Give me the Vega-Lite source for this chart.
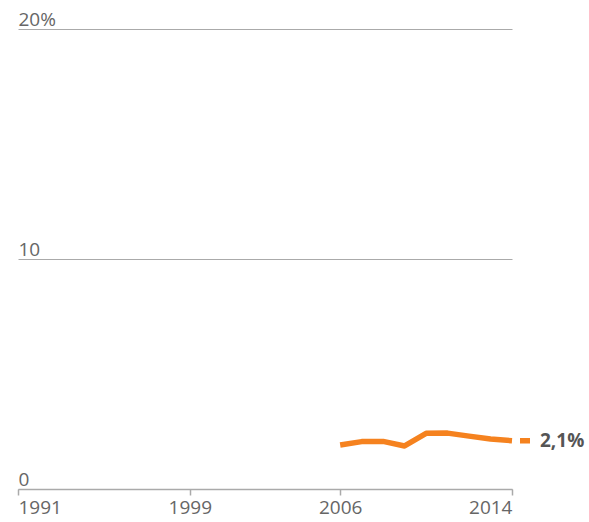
{
  "$schema": "https://vega.github.io/schema/vega-lite/v6.json",
  "width": 494,
  "height": 460,
  "autosize": "none",
  "padding": {"left": 18, "top": 29, "right": 77, "bottom": 33},
  "background": "white",
  "config": {
    "view": {"stroke": null},
    "font": "Open Sans"
  },
  "datasets": {
    "series": [
      {"year": 2006, "value": 1.91},
      {"year": 2007, "value": 2.06},
      {"year": 2008, "value": 2.07},
      {"year": 2009, "value": 1.87},
      {"year": 2010, "value": 2.42},
      {"year": 2011, "value": 2.43},
      {"year": 2012, "value": 2.3},
      {"year": 2013, "value": 2.17},
      {"year": 2014, "value": 2.1}
    ],
    "stub": [
      {"year": 2014, "value": 2.1},
      {"year": 2015, "value": 2.1}
    ],
    "label": [
      {"year": 2014, "value": 2.1, "text": "2,1%"}
    ]
  },
  "layer": [
    {
      "data": {"name": "series"},
      "mark": {"type": "line", "color": "#f5821f", "strokeWidth": 5.5, "strokeJoin": "round"},
      "encoding": {
        "x": {
          "field": "year", "type": "quantitative",
          "scale": {"domain": [1991, 2014], "nice": false, "zero": false},
          "axis": {
            "title": null,
            "values": [1991, 1999, 2006, 2014],
            "format": "d",
            "grid": false,
            "domainColor": "#aaaaaa",
            "domainWidth": 1.5,
            "tickColor": "#aaaaaa",
            "tickWidth": 1.5,
            "tickSize": 6,
            "labelFlush": true,
            "labelPadding": 3,
            "labelFontSize": 19,
            "labelColor": "#666666",
            "labelFont": "Open Sans"
          }
        },
        "y": {
          "field": "value", "type": "quantitative",
          "scale": {"domain": [0, 20], "nice": false},
          "axis": {
            "title": null,
            "values": [0, 10, 20],
            "labelExpr": "datum.value == 20 ? '20%' : datum.label",
            "domain": false,
            "ticks": false,
            "tickSize": 0,
            "grid": true,
            "gridColor": "#aaaaaa",
            "gridWidth": 1,
            "labelAlign": "left",
            "labelBaseline": "bottom",
            "labelPadding": 0,
            "labelDy": -4,
            "labelFlush": false,
            "labelFontSize": 19,
            "labelColor": "#666666",
            "labelFont": "Open Sans"
          }
        }
      }
    },
    {
      "data": {"name": "stub"},
      "mark": {"type": "line", "color": "#f5821f", "strokeWidth": 5.5, "strokeDash": [0, 8, 10, 60], "clip": false},
      "encoding": {
        "x": {"field": "year", "type": "quantitative"},
        "y": {"field": "value", "type": "quantitative"}
      }
    },
    {
      "data": {"name": "label"},
      "mark": {"type": "text", "align": "left", "baseline": "middle", "dx": 28, "fontSize": 19, "fontWeight": "bold", "color": "#555555", "font": "Open Sans"},
      "encoding": {
        "x": {"field": "year", "type": "quantitative"},
        "y": {"field": "value", "type": "quantitative"},
        "text": {"field": "text"}
      }
    }
  ]
}
